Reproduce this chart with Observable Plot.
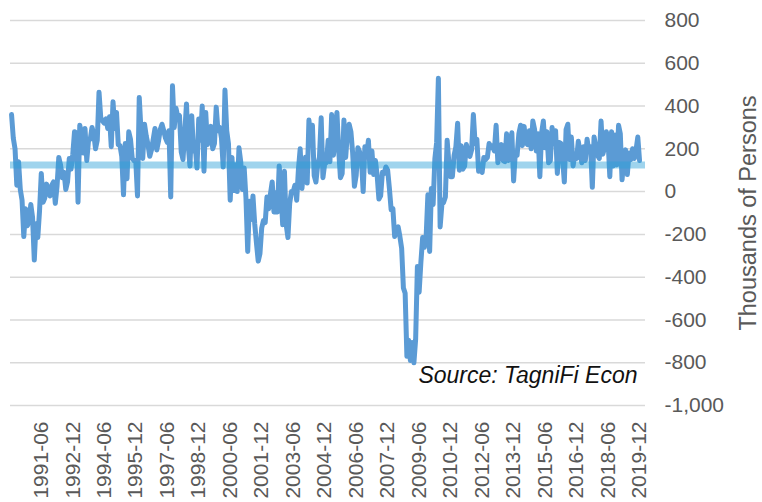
<!DOCTYPE html>
<html>
<head>
<meta charset="utf-8">
<script src="https://cdn.jsdelivr.net/npm/d3@7"></script>
<script src="https://cdn.jsdelivr.net/npm/@observablehq/plot@0.6"></script>
<style>
  html, body { margin: 0; padding: 0; background: #ffffff; }
  #chart { width: 762px; height: 502px; overflow: hidden; }
</style>
</head>
<body>
<div id="chart"></div>
<script>
// Monthly change in nonfarm payrolls, thousands of persons, Jan 1990 – Dec 2019
const startYear = 1990;
const y1990 = [360, 250, 200, 30, 140, 10, -40, -210, -80, -160, -140, -60];
const y1991 = [-120, -320, -150, -215, -90, 85, -50, -30, 35, 5, -20, 30];
const y1992 = [45, -55, 25, 160, 125, 65, 90, 10, 45, 155, 105, 175];
const y1993 = [280, 275, -50, 310, 270, 180, 295, 145, 240, 245, 300, 270];
const y1994 = [200, 240, 465, 345, 330, 320, 340, 295, 350, 210, 420, 295];
const y1995 = [370, 220, 215, 165, -15, 225, 60, 280, 245, 155, 145, 145];
const y1996 = [-20, 440, 285, 155, 315, 260, 220, 165, 195, 245, 295, 195];
const y1997 = [235, 290, 315, 285, 250, 230, 285, -25, 495, 300, 390, 350];
const y1998 = [355, 185, 150, 275, 410, 215, 120, 355, 190, 215, 110, 340];
const y1999 = [240, 400, 95, 370, 220, 265, 305, 200, 225, 395, 285, 300];
const y2000 = [250, 115, 475, 285, 225, -40, 160, 5, 125, 0, 205, 140];
const y2001 = [10, 110, -30, -280, -45, -130, -20, -150, -240, -325, -290, -170];
const y2002 = [-135, -145, -25, -80, -10, 45, -95, -5, -95, 120, 5, -155];
const y2003 = [95, -155, -215, -55, 0, 0, 30, -40, 105, 200, 15, 105];
const y2004 = [160, 40, 335, 250, 310, 75, 45, 125, 160, 345, 65, 130];
const y2005 = [135, 240, 140, 360, 170, 245, 370, 195, 65, 85, 335, 160];
const y2006 = [275, 315, 280, 180, 25, 75, 205, 185, 155, 0, 210, 170];
const y2007 = [240, 90, 190, 80, 145, 75, -35, -20, 90, 85, 115, 100];
const y2008 = [15, -85, -80, -210, -185, -165, -210, -265, -450, -475, -770, -695];
const y2009 = [-790, -705, -800, -690, -350, -470, -330, -215, -260, -210, -15, -280];
const y2010 = [15, -60, 155, 230, 530, -165, -60, -50, -25, 240, 135, 70];
const y2011 = [70, 170, 210, 320, 100, 215, 105, 120, 220, 185, 165, 195];
const y2012 = [360, 225, 245, 95, 110, 90, 160, 150, 160, 225, 205, 215];
const y2013 = [190, 310, 135, 190, 220, 145, 140, 270, 145, 225, 275, 50];
const y2014 = [185, 170, 270, 310, 215, 305, 230, 220, 285, 200, 330, 290];
const y2015 = [190, 270, 70, 275, 330, 205, 280, 135, 145, 300, 225, 285];
const y2016 = [85, 230, 225, 155, 45, 290, 315, 150, 255, 120, 175, 155];
const y2017 = [235, 185, 135, 210, 145, 245, 190, 210, 20, 255, 210, 170];
const y2018 = [155, 330, 175, 205, 280, 240, 70, 280, 120, 265, 125, 310];
const y2019 = [270, 55, 155, 195, 80, 180, 150, 200, 155, 195, 255, 145];

const referenceLevel = [125];

const tickLabels = ["1991-06","1992-12","1994-06","1995-12","1997-06","1998-12","2000-06","2001-12",
  "2003-06","2004-12","2006-06","2007-12","2009-06","2010-12","2012-06","2013-12",
  "2015-06","2016-12","2018-06","2019-12"];
const yTicks = [800, 600, 400, 200, 0, -200, -400, -600, -800, -1000];
const yTitle = "Thousands of Persons";
const sourceNote = ["Source: TagniFi Econ"];

const years = [y1990,y1991,y1992,y1993,y1994,y1995,y1996,y1997,y1998,y1999,
  y2000,y2001,y2002,y2003,y2004,y2005,y2006,y2007,y2008,y2009,
  y2010,y2011,y2012,y2013,y2014,y2015,y2016,y2017,y2018,y2019];
const data = years.flatMap((arr, yi) => arr.map((v, m) => ({i: yi * 12 + m, v})));
const labelIndex = new Map(tickLabels.map(s => {
  const [yy, mm] = s.split("-").map(Number);
  return [(yy - startYear) * 12 + (mm - 1), s];
}));
const tickIdx = [...labelIndex.keys()];

const chart = Plot.plot({
  width: 762,
  height: 502,
  marginLeft: 10,
  marginRight: 117,
  marginTop: 20,
  marginBottom: 97,
  style: {fontFamily: "'Liberation Sans', Arial, sans-serif", color: "#595959", background: "#ffffff"},
  x: {domain: [-0.6, 362.4]},
  y: {domain: [-1000, 800]},
  marks: [
    Plot.gridY(yTicks, {stroke: "#d9d9d9", strokeOpacity: 1, strokeWidth: 1.5}),
    Plot.lineY(data, {x: "i", y: "v", stroke: "#5b9bd5", strokeWidth: 5, strokeLinejoin: "round", strokeLinecap: "round"}),
    Plot.ruleY(referenceLevel, {stroke: "#2a9fd6", strokeOpacity: 0.45, strokeWidth: 7}),
    Plot.axisY({anchor: "right", ticks: yTicks, tickSize: 0, tickPadding: 19, textAnchor: "start",
      fontSize: 21, tickFormat: d => d.toLocaleString("en-US"), label: null}),
    Plot.axisX({ticks: tickIdx, tickFormat: i => labelIndex.get(i), tickRotate: -90, tickSize: 0,
      tickPadding: 16, fontSize: 21, label: null}),
    Plot.text([yTitle], {frameAnchor: "right", rotate: -90, dx: 103, fontSize: 23.5, fill: "#595959", textAnchor: "middle"}),
    Plot.text(sourceNote, {frameAnchor: "bottom-right", dx: -8, dy: -23, fontSize: 23, fontStyle: "italic",
      fill: "#111111", textAnchor: "end"})
  ]
});
document.getElementById("chart").appendChild(chart);
</script>
</body>
</html>
